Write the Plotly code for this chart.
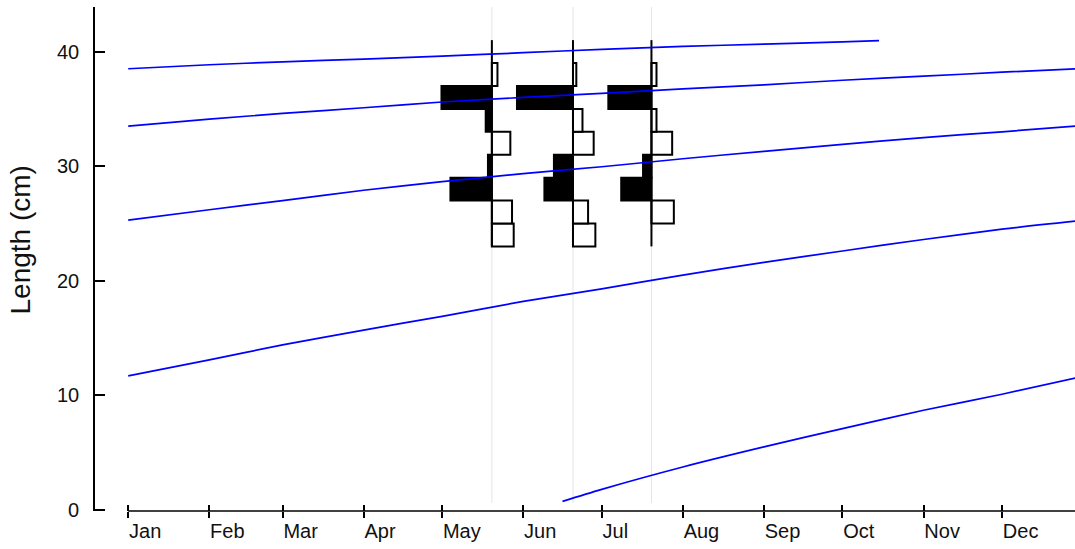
import plotly.graph_objects as go

# ---- axis labels -------------------------------------------------------
months = ["Jan", "Feb", "Mar", "Apr", "May", "Jun",
          "Jul", "Aug", "Sep", "Oct", "Nov", "Dec"]
month_start_day = [0, 31, 59, 90, 120, 151, 181, 212, 243, 273, 304, 334]
length_ticks = [0, 10, 20, 30, 40]

# ---- length-frequency samples (restructured scores) ---------------------
sample_days = [139, 170, 200]          # May 20, Jun 20, Jul 20
length_mids = [24, 26, 28, 30, 32, 34, 36, 38, 40]
bin_width = 2
rscore_may = [-0.39, -0.36, 0.74, 0.07, -0.33, 0.11, 0.90, -0.10, 0.00]
rscore_jun = [-0.40, -0.27, 0.51, 0.34, -0.37, -0.17, 1.00, -0.06, 0.00]
rscore_jul = [0.00, -0.40, 0.54, 0.15, -0.37, -0.09, 0.77, -0.09, 0.00]
rscores = [rscore_may, rscore_jun, rscore_jul]
score_days = 21.4                      # bar length (days) of a score of 1

# ---- fitted growth curves, one per cohort (day of year, length cm) ------
curve_days = [0, 31, 59, 90, 120, 151, 181, 212, 243, 273, 304, 334, 362]
cohort_a_day = [0, 31, 59, 90, 120, 151, 181, 212, 243, 273, 287]
cohort_a_len = [38.5, 38.85, 39.1, 39.35, 39.6, 39.9, 40.2, 40.45, 40.65, 40.85, 40.95]
cohort_b_len = [33.5, 34.1, 34.6, 35.1, 35.6, 36.0, 36.35, 36.75, 37.1, 37.5, 37.85, 38.2, 38.5]
cohort_c_len = [25.3, 26.2, 27.0, 27.9, 28.65, 29.35, 29.95, 30.65, 31.3, 31.9, 32.5, 33.0, 33.5]
cohort_d_len = [11.7, 13.1, 14.4, 15.7, 16.9, 18.2, 19.3, 20.5, 21.6, 22.6, 23.6, 24.5, 25.2]
cohort_e_day = [166, 181, 212, 243, 273, 304, 334, 362]
cohort_e_len = [0.75, 1.8, 3.75, 5.5, 7.1, 8.7, 10.1, 11.5]

X_RANGE = [-12.7, 361.9]
Y_RANGE = [-0.09, 43.89]

TICK_FONT = dict(family="Liberation Sans, Arial", size=20, color="#111111")
LABEL_FONT = dict(family="Liberation Sans, Arial", size=28, color="#111111")

fig = go.Figure()

# histogram bars: positive scores in black to the left, negative in white to the right
for day, scores in zip(sample_days, rscores):
    ys = [m for m, s in zip(length_mids, scores) if s != 0]
    xs = [-s * score_days for s in scores if s != 0]
    cols = ["black" if s > 0 else "white" for s in scores if s != 0]
    fig.add_trace(go.Bar(
        y=ys, x=xs, base=day, orientation="h", width=bin_width,
        marker=dict(color=cols, line=dict(color="black", width=2)),
        hoverinfo="skip",
    ))

# sample axis lines spanning the length-class range
lo = length_mids[0] - bin_width / 2
hi = length_mids[-1] + bin_width / 2
for day in sample_days:
    fig.add_trace(go.Scatter(
        x=[day, day], y=[lo, hi], mode="lines",
        line=dict(color="black", width=2), hoverinfo="skip",
    ))

# growth curves
curves = [
    (cohort_a_day, cohort_a_len),
    (curve_days, cohort_b_len),
    (curve_days, cohort_c_len),
    (curve_days, cohort_d_len),
    (cohort_e_day, cohort_e_len),
]
for xd, yl in curves:
    fig.add_trace(go.Scatter(
        x=xd, y=yl, mode="lines",
        line=dict(color="#0000ff", width=1.7, shape="spline", smoothing=0.8),
        hoverinfo="skip",
    ))

# helper trace for the overlaid tick axis
fig.add_trace(go.Scatter(x=[0], y=[0], xaxis="x2", mode="markers",
                         marker=dict(opacity=0), hoverinfo="skip"))

shapes = [
    # bottom axis line starting at January
    dict(type="line", xref="x", yref="paper", x0=0, x1=X_RANGE[1], y0=0, y1=0,
         line=dict(color="black", width=1.6)),
]
for day in sample_days:
    shapes.append(dict(type="line", xref="x", yref="paper", x0=day, x1=day,
                       y0=0.016, y1=1, layer="below",
                       line=dict(color="#e4e4e4", width=1)))

fig.update_layout(
    width=1075, height=549,
    margin=dict(l=95, r=0, t=7, b=38),
    plot_bgcolor="white", paper_bgcolor="white",
    showlegend=False, barmode="overlay",
    shapes=shapes,
    xaxis=dict(range=X_RANGE, tickmode="array", tickvals=month_start_day,
               ticktext=months, ticks="outside", ticklen=6, tickwidth=1.6,
               tickcolor="black", ticklabelposition="outside right",
               tickfont=TICK_FONT, showline=False, showgrid=False,
               zeroline=False, ticklabelstandoff=2),
    xaxis2=dict(range=X_RANGE, overlaying="x", matches="x", anchor="y",
                tickmode="array", tickvals=month_start_day, ticks="inside",
                ticklen=6, tickwidth=1.6, tickcolor="black",
                showticklabels=False, showgrid=False, zeroline=False,
                showline=False),
    yaxis=dict(range=Y_RANGE, tickmode="array", tickvals=length_ticks,
               ticks="inside", ticklen=10, tickwidth=1.6, tickcolor="black",
               showline=True, linewidth=1.6, linecolor="black",
               showgrid=False, zeroline=False, tickfont=TICK_FONT,
               ticklabelstandoff=10),
    annotations=[dict(text="Length (cm)", textangle=-90, showarrow=False,
                      xref="paper", yref="paper", x=-0.076, y=0.5377,
                      xanchor="center", yanchor="middle", font=LABEL_FONT)],
)

fig.write_html("out.html")
